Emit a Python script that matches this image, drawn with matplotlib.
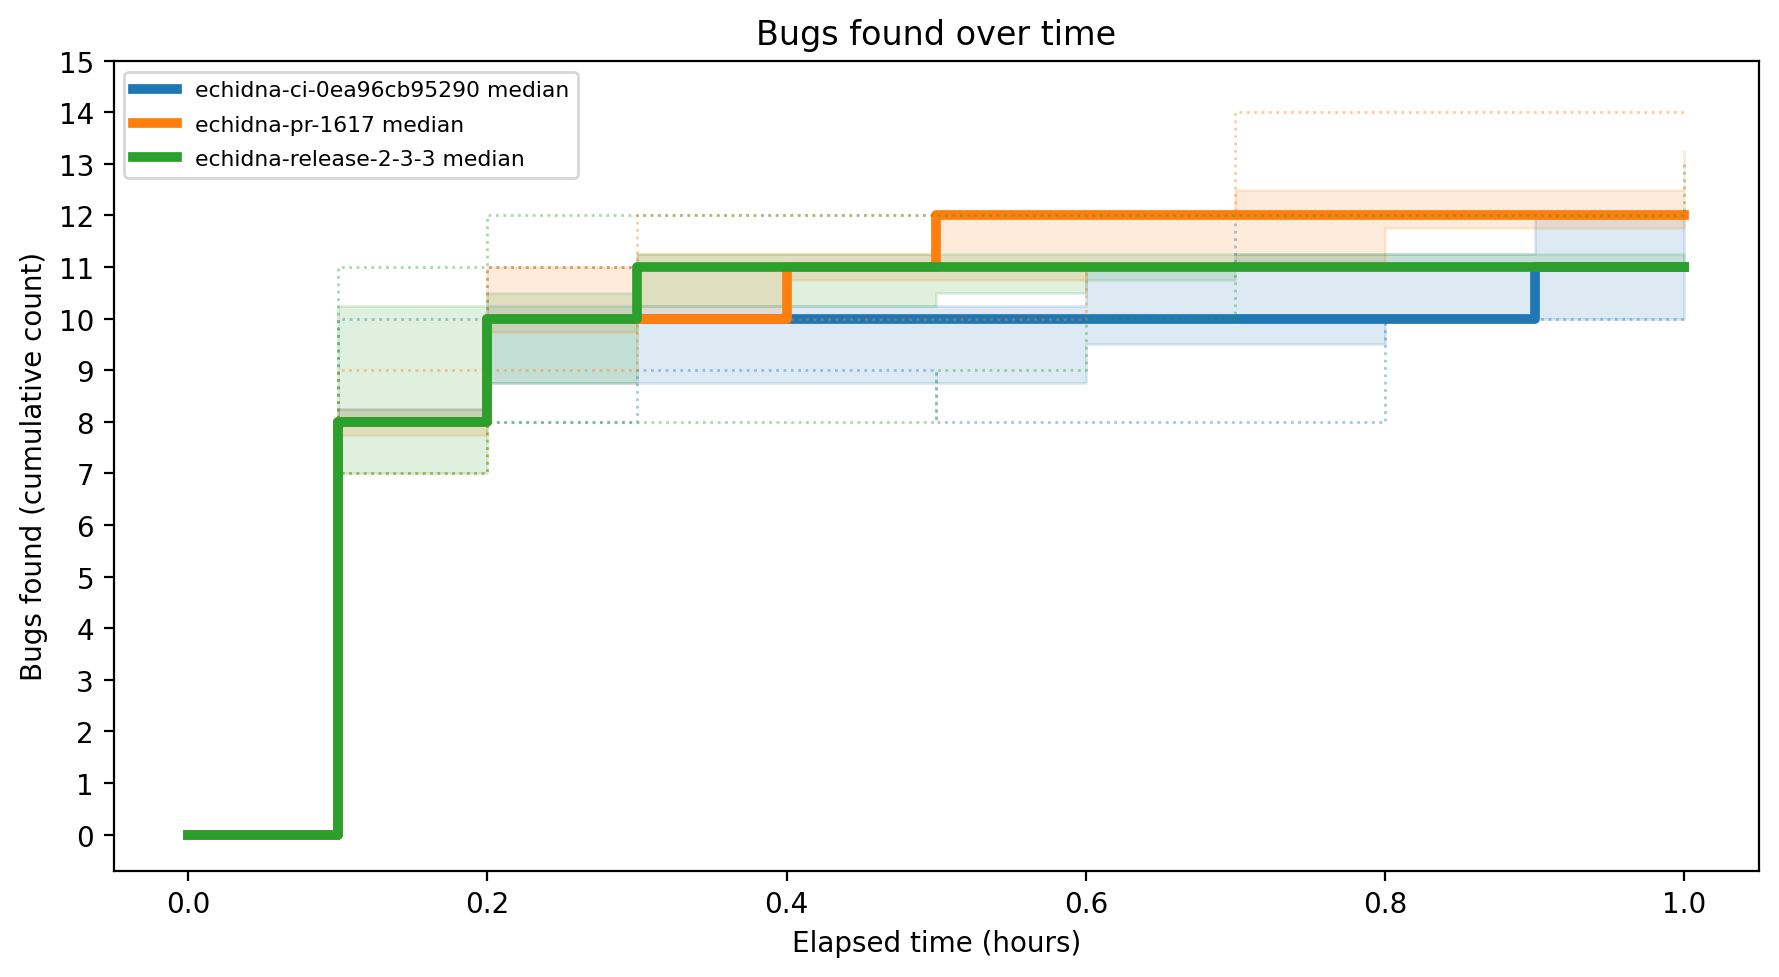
import numpy as np
import matplotlib
matplotlib.use("Agg")
import matplotlib.pyplot as plt

# elapsed time in hours, one sample every 6 minutes
hours = [0.0, 0.1, 0.2, 0.3, 0.4, 0.5, 0.6, 0.7, 0.8, 0.9, 1.0]

campaigns = ["echidna-ci-0ea96cb95290", "echidna-pr-1617", "echidna-release-2-3-3"]

# echidna-ci-0ea96cb95290
ci_median = [0, 8, 10, 10, 10, 10, 10, 10, 10, 11, 11]
ci_q25 = [0, 8, 8.75, 8.75, 8.75, 8.75, 9.5, 9.5, 10, 10, 10]
ci_q75 = [0, 8.25, 10.25, 10.25, 10.25, 10.25, 11, 11.25, 11.25, 12, 12]
ci_min = [0, 8, 8, 9, 9, 8, 8, 8, 10, 10, 10]
ci_max = [0, 10, 11, 11, 11, 11, 11, 12, 12, 12, 12]

# echidna-pr-1617
pr_median = [0, 8, 10, 10, 11, 12, 12, 12, 12, 12, 12]
pr_q25 = [0, 7.75, 9.75, 10, 10.75, 10.75, 11, 11, 11.75, 11.75, 11.75]
pr_q75 = [0, 8.25, 11, 11.25, 11.25, 12, 12, 12.5, 12.5, 12.5, 13.25]
pr_min = [0, 7, 9, 10, 10, 10, 11, 11, 11, 11, 11]
pr_max = [0, 9, 11, 12, 12, 12, 12, 14, 14, 14, 14]

# echidna-release-2-3-3
rel_median = [0, 8, 10, 11, 11, 11, 11, 11, 11, 11, 11]
rel_q25 = [0, 7, 8.75, 10.25, 10.25, 10.5, 10.75, 11, 11, 11, 11]
rel_q75 = [0, 10.25, 10.5, 11.25, 11.25, 11.25, 11.25, 11.25, 11.25, 11.25, 11.25]
rel_min = [0, 7, 8, 8, 8, 9, 10, 11, 11, 11, 11]
rel_max = [0, 11, 12, 12, 12, 12, 12, 12, 12, 12, 13]

stats = [
    (ci_median, ci_q25, ci_q75, ci_min, ci_max),
    (pr_median, pr_q25, pr_q75, pr_min, pr_max),
    (rel_median, rel_q25, rel_q75, rel_min, rel_max),
]
colors = ["#1f77b4", "#ff7f0e", "#2ca02c"]

fig = plt.figure(figsize=(1779 / 200, 978 / 200), dpi=200)
ax = fig.add_subplot(111)
fig.subplots_adjust(left=0.0638, right=0.9888, top=0.9369, bottom=0.1087)

t = np.array(hours)
for name, (med, q25, q75, lo, hi), c in zip(campaigns, stats, colors):
    ax.fill_between(t, q25, q75, step="post", color=c, alpha=0.15)
    ax.step(t, med, where="post", color=c, lw=3.5, label=name + " median")
    ax.step(t, lo, where="post", color=c, lw=1, ls=":", alpha=0.4)
    ax.step(t, hi, where="post", color=c, lw=1, ls=":", alpha=0.4)

ax.set_xlim(-0.05, 1.05)
ax.set_ylim(-0.7, 15)
ax.set_yticks(range(0, 16))
ax.set_title("Bugs found over time")
ax.set_xlabel("Elapsed time (hours)")
ax.set_ylabel("Bugs found (cumulative count)")
ax.legend(loc="upper left", fontsize=7.9, labelspacing=0.65)

fig.savefig("out.png", dpi=200)
